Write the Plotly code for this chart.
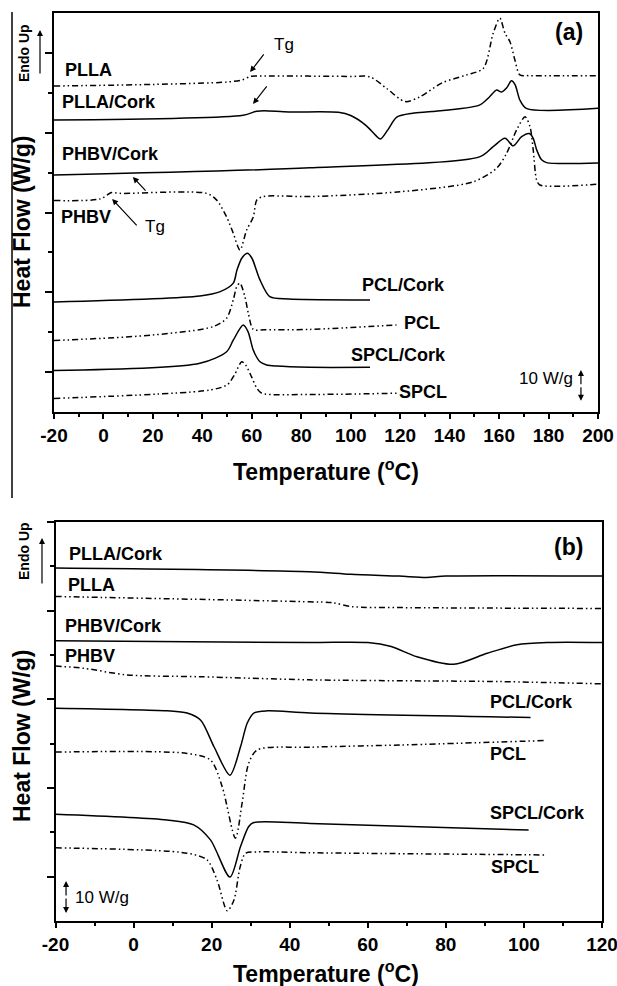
import plotly.graph_objects as go

# ---------------- Panel (a): heating scans (offset heat flow, arbitrary units) ----------------
a_plla_T = [-20, 20, 50, 56, 59.5, 65, 100, 107.8, 114.5, 122, 128, 137, 146.9, 153.6, 157.6, 160.3, 162.4, 164.4, 166.4, 168.4, 172, 200]
a_plla_v = [8.17, 8.21, 8.27, 8.32, 8.41, 8.42, 8.41, 8.40, 8.11, 7.78, 7.90, 8.25, 8.45, 8.61, 9.49, 9.87, 9.49, 9.28, 8.82, 8.45, 8.43, 8.43]

a_pllacork_T = [-20, 56.5, 62, 65, 75, 95, 100, 106, 110, 112, 115, 118.6, 125, 133, 152, 156, 159, 161, 163, 165, 166.5, 168.4, 171, 200]
a_pllacork_v = [7.32, 7.44, 7.54, 7.55, 7.52, 7.51, 7.43, 7.19, 6.94, 6.84, 7.07, 7.39, 7.49, 7.53, 7.69, 7.89, 8.07, 8.02, 8.12, 8.30, 8.20, 7.82, 7.61, 7.61]

a_phbvcork_T = [-20, 83.5, 152.3, 157.6, 162.4, 165.7, 169.1, 172.2, 173.8, 175.2, 177.2, 179.2, 200]
a_phbvcork_v = [5.94, 6.12, 6.40, 6.65, 6.86, 6.67, 6.90, 6.98, 6.86, 6.57, 6.32, 6.25, 6.24]

a_phbv_T = [-20, -1.4, 3.3, 6.7, 41.7, 45.8, 49.8, 52.5, 55.2, 57.9, 60.6, 62, 64.6, 83.5, 120, 149.6, 159, 163, 167.1, 170.5, 172.5, 173.8, 175.2, 176.5, 200]
a_phbv_v = [5.30, 5.34, 5.50, 5.48, 5.48, 5.31, 4.89, 4.48, 4.06, 4.56, 4.89, 5.31, 5.40, 5.40, 5.52, 5.77, 6.11, 6.48, 7.07, 7.40, 7.15, 6.57, 5.81, 5.69, 5.71]

a_pclcork_T = [-20, 39, 47, 52.5, 54, 56, 58.2, 60, 63.3, 67.3, 75, 107.8]
a_pclcork_v = [2.76, 2.91, 3.01, 3.23, 3.56, 3.86, 3.98, 3.86, 3.31, 2.89, 2.83, 2.81]

a_pcl_T = [-20, 20, 44.4, 49.8, 52.5, 53.9, 55.2, 57.2, 58.6, 60.6, 65, 83.5, 118.5]
a_pcl_v = [1.79, 1.93, 2.14, 2.35, 2.81, 3.14, 3.23, 2.89, 2.47, 2.07, 2.06, 2.07, 2.18]

a_spclcork_T = [-20, 39, 49.8, 52.5, 56.5, 58.5, 60.6, 63.3, 66, 70, 83.5, 107.8]
a_spclcork_v = [1.04, 1.22, 1.51, 1.80, 2.18, 2.01, 1.55, 1.26, 1.18, 1.15, 1.12, 1.12]

a_spcl_T = [-20, 43, 50, 53, 55.9, 57.5, 59.9, 62, 64, 83.5, 118.5]
a_spcl_v = [0.34, 0.55, 0.68, 0.93, 1.26, 1.18, 0.88, 0.60, 0.47, 0.44, 0.47]

# ---------------- Panel (b): cooling scans ----------------
b_pllacork_T = [-20, 45, 55.6, 68, 75, 80, 120]
b_pllacork_v = [7.96, 7.88, 7.82, 7.78, 7.75, 7.78, 7.78]

b_plla_T = [-20, 45, 51, 56, 68, 120]
b_plla_v = [7.32, 7.20, 7.18, 7.09, 7.07, 7.05]

b_phbvcork_T = [-20, 45, 60, 66, 72.6, 82, 90.6, 98.2, 106, 120]
b_phbvcork_v = [6.32, 6.28, 6.28, 6.19, 5.96, 5.79, 6.04, 6.23, 6.28, 6.28]

b_phbv_T = [-20, -12.7, -1.6, 17, 45, 94, 120]
b_phbv_v = [5.75, 5.70, 5.55, 5.51, 5.44, 5.40, 5.35]

b_pclcork_T = [-20, 8.6, 13.7, 17.2, 20.6, 24.7, 27.4, 29.1, 30.8, 34.2, 45.3, 101.7]
b_pclcork_v = [4.80, 4.74, 4.69, 4.53, 3.93, 3.29, 3.93, 4.46, 4.69, 4.74, 4.69, 4.59]

b_pcl_T = [-20, 13.7, 19.7, 22.7, 26.1, 27.8, 29.5, 31.7, 45.3, 68.4, 105.5]
b_pcl_v = [3.81, 3.78, 3.63, 3.03, 1.87, 2.66, 3.56, 3.86, 3.92, 3.97, 4.07]

b_spclcork_T = [-20, 8.6, 15.4, 19.7, 24.7, 27.4, 29.5, 30.8, 45.3, 101.2]
b_spclcork_v = [2.41, 2.28, 2.17, 1.83, 0.99, 1.68, 2.13, 2.22, 2.20, 2.05]

b_spcl_T = [-20, 13.7, 18.8, 21.4, 24, 25.7, 27.3, 28.7, 31.7, 45.3, 105.5]
b_spcl_v = [1.65, 1.53, 1.38, 0.92, 0.23, 0.47, 1.22, 1.53, 1.56, 1.54, 1.49]

a_xticks = [-20, 0, 20, 40, 60, 80, 100, 120, 140, 160, 180, 200]
b_xticks = [-20, 0, 20, 40, 60, 80, 100, 120]

W, H = 617, 986
FONT = "Liberation Sans, Arial, sans-serif"
SOLID = "solid"
DDOT = "6px,3px,1.5px,3px,1.5px,3px"

fig = go.Figure()

def add(T, v, dash, xa, ya):
    fig.add_trace(go.Scatter(x=T, y=v, mode="lines", xaxis=xa, yaxis=ya,
                             line=dict(color="black", width=1.5, dash=dash, shape="spline", smoothing=0.8),
                             hoverinfo="skip", showlegend=False))

add(a_plla_T, a_plla_v, DDOT, "x", "y")
add(a_pllacork_T, a_pllacork_v, SOLID, "x", "y")
add(a_phbvcork_T, a_phbvcork_v, SOLID, "x", "y")
add(a_phbv_T, a_phbv_v, DDOT, "x", "y")
add(a_pclcork_T, a_pclcork_v, SOLID, "x", "y")
add(a_pcl_T, a_pcl_v, DDOT, "x", "y")
add(a_spclcork_T, a_spclcork_v, SOLID, "x", "y")
add(a_spcl_T, a_spcl_v, DDOT, "x", "y")

add(b_pllacork_T, b_pllacork_v, SOLID, "x2", "y2")
add(b_plla_T, b_plla_v, DDOT, "x2", "y2")
add(b_phbvcork_T, b_phbvcork_v, SOLID, "x2", "y2")
add(b_phbv_T, b_phbv_v, DDOT, "x2", "y2")
add(b_pclcork_T, b_pclcork_v, SOLID, "x2", "y2")
add(b_pcl_T, b_pcl_v, DDOT, "x2", "y2")
add(b_spclcork_T, b_spclcork_v, SOLID, "x2", "y2")
add(b_spcl_T, b_spcl_v, DDOT, "x2", "y2")

def px(x):
    return x / W

def py(y):
    return 1 - y / H

xcommon = dict(showline=True, linecolor="black", linewidth=1.8, mirror=True, showgrid=False,
               zeroline=False, ticks="outside", ticklen=5, tickwidth=1.5, tickcolor="black",
               tickfont=dict(family=FONT, size=19, color="black", weight="bold"),
               minor=dict(ticks="outside", ticklen=3, tickwidth=1.5, tickcolor="black", dtick=10),
               tickmode="array", title=None, automargin=False, ticklabeloverflow="allow")
ycommon = dict(showline=True, linecolor="black", linewidth=1.8, mirror=True, showgrid=False,
               zeroline=False, ticks="outside", ticklen=7, tickwidth=1.5, tickcolor="black",
               showticklabels=False, tickmode="array", tickvals=[1, 3, 5, 7, 9],
               minor=dict(ticks="outside", ticklen=4, tickwidth=1.5, tickcolor="black", tickmode="array", tickvals=[2, 4, 6, 8]),
               title=None, automargin=False)

fig.update_layout(
    width=W, height=H, margin=dict(l=0, r=0, t=0, b=0),
    paper_bgcolor="white", plot_bgcolor="white",
    xaxis=dict(xcommon, domain=[px(54), px(598)], range=[-20, 200], anchor="y",
               tickvals=a_xticks, ticktext=[str(t) for t in a_xticks]),
    yaxis=dict(ycommon, domain=[py(412), py(13)], range=[0, 10], anchor="x"),
    xaxis2=dict(xcommon, domain=[px(55.5), px(602)], range=[-20, 120], anchor="y2",
                tickvals=b_xticks, ticktext=[str(t) for t in b_xticks]),
    yaxis2=dict(ycommon, domain=[py(921), py(522)], range=[0, 9], anchor="x2"),
)

def lab(text, x, y, xr, yr, size=18, bold=True, xanchor="left"):
    fig.add_annotation(text=text, x=x, y=y, xref=xr, yref=yr, showarrow=False,
                       xanchor=xanchor, yanchor="middle",
                       font=dict(family=FONT, size=size, color="black", weight="bold" if bold else "normal"))

def arrow(xh, yh, xt, yt, xr, yr, head=2):
    fig.add_annotation(x=xh, y=yh, ax=xt, ay=yt, xref=xr, yref=yr, axref=xr, ayref=yr,
                       text="", showarrow=True, arrowhead=head, arrowsize=1, arrowwidth=1.2,
                       arrowcolor="black")

# ---- panel (a) labels ----
lab("PLLA", -16.4, 8.57, "x", "y")
lab("PLLA/Cork", -17.6, 7.77, "x", "y")
lab("PHBV/Cork", -17.6, 6.47, "x", "y")
lab("PHBV", -18.0, 4.89, "x", "y")
lab("Tg", 68.2, 9.22, "x", "y", size=17, bold=False)
lab("Tg", 16.0, 4.64, "x", "y", size=17, bold=False)
lab("(a)", 194.7, 9.52, "x", "y", size=23, xanchor="right")
lab("PCL/Cork", 103.7, 3.18, "x", "y")
lab("PCL", 120.7, 2.23, "x", "y")
lab("SPCL/Cork", 99.3, 1.43, "x", "y")
lab("SPCL", 118.7, 0.50, "x", "y")
lab("10 W/g", 167.2, 0.85, "x", "y", size=17, bold=False)
arrow(59.3, 8.52, 65.3, 9.0, "x", "y")
arrow(60.5, 7.72, 66.5, 8.20, "x", "y")
arrow(11.9, 5.89, 17.6, 5.51, "x", "y")
arrow(3.5, 5.34, 14.0, 4.64, "x", "y")
# 10 W/g scale bar (double headed)
arrow(193.1, 1.05, 193.1, 0.66, "x", "y")
arrow(193.1, 0.28, 193.1, 0.66, "x", "y")

# ---- panel (b) labels ----
lab("PLLA/Cork", -17.1, 8.28, "x2", "y2")
lab("PLLA", -17.3, 7.58, "x2", "y2")
lab("PHBV/Cork", -18.1, 6.65, "x2", "y2")
lab("PHBV", -18.1, 5.98, "x2", "y2")
lab("(b)", 115.6, 8.44, "x2", "y2", size=23, xanchor="right")
lab("PCL/Cork", 90.8, 4.94, "x2", "y2")
lab("PCL", 90.8, 3.77, "x2", "y2")
lab("SPCL/Cork", 90.8, 2.44, "x2", "y2")
lab("SPCL", 91.0, 1.22, "x2", "y2")
lab("10 W/g", -15.5, 0.54, "x2", "y2", size=17, bold=False)
arrow(-17.3, 0.90, -17.3, 0.54, "x2", "y2")
arrow(-17.3, 0.18, -17.3, 0.54, "x2", "y2")

# ---- axis titles, Endo Up ----
for yc in (222, 736):
    fig.add_annotation(text="Heat Flow (W/g)", x=px(22), y=py(yc), xref="paper", yref="paper",
                       showarrow=False, textangle=-90, xanchor="center", yanchor="middle",
                       font=dict(family=FONT, size=23, color="black", weight="bold"))
for yc in (470, 972):
    fig.add_annotation(text="Temperature (<sup>o</sup>C)", x=px(326), y=py(yc), xref="paper", yref="paper",
                       showarrow=False, xanchor="center", yanchor="middle",
                       font=dict(family=FONT, size=23, color="black", weight="bold"))
for yc in (53, 551):
    fig.add_annotation(text="Endo Up", x=px(24), y=py(yc), xref="paper", yref="paper",
                       showarrow=False, textangle=-90, xanchor="center", yanchor="middle",
                       font=dict(family=FONT, size=14, color="black", weight="bold"))
for xe, ya, yb in ((40, 75, 30), (42, 585, 538)):
    fig.add_annotation(x=px(xe), y=py(yb), ax=0, ay=ya - yb, xref="paper", yref="paper",
                       axref="pixel", ayref="pixel", text="", showarrow=True, arrowhead=2,
                       arrowsize=1, arrowwidth=1.2, arrowcolor="black")

# left frame line of the figure
fig.add_shape(type="line", xref="paper", yref="paper", x0=px(12), x1=px(12), y0=py(12), y1=py(498),
              line=dict(color="black", width=1.5))

fig.write_html("out.html", config={"displayModeBar": False},
               post_script="document.body.style.margin='0';document.body.style.overflow='hidden';")
